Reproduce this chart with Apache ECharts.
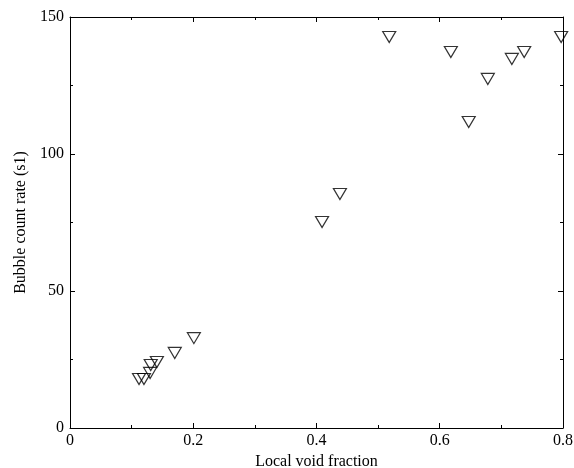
<!DOCTYPE html>
<html>
<head>
<meta charset="utf-8">
<script src="https://cdn.jsdelivr.net/npm/echarts@6/dist/echarts.min.js"></script>
<style>
  html, body { margin: 0; padding: 0; background: #fff; }
  #chart { width: 574px; height: 468px; }
</style>
</head>
<body>
<div id="chart"></div>
<script>
// void fraction vs bubble count rate
var voidFraction = [0.112, 0.120, 0.130, 0.131, 0.141, 0.170, 0.201, 0.409, 0.438, 0.518, 0.618, 0.647, 0.678, 0.717, 0.737, 0.797];
var countRate    = [17.9, 17.9, 20.1, 23.0, 24.1, 27.4, 32.8, 75.2, 85.4, 142.7, 137.2, 111.7, 127.4, 134.7, 137.2, 142.7];

var points = [];
for (var i = 0; i < voidFraction.length; i++) {
    points.push([voidFraction[i], countRate[i]]);
}

var font = 'Liberation Serif';
var black = '#000';

function frameAxis(pos, min, max, interval, showLabel) {
    return {
        type: 'value',
        position: pos,
        min: min,
        max: max,
        interval: interval,
        axisLine: { show: true, onZero: false, lineStyle: { color: black, width: 1 } },
        axisTick: { show: true, inside: true, length: 5, lineStyle: { color: black } },
        minorTick: { show: true, splitNumber: 2, length: 3, lineStyle: { color: black } },
        splitLine: { show: false },
        axisLabel: { show: showLabel, color: black, fontFamily: font, fontSize: 16 }
    };
}

var myChart = echarts.init(document.getElementById('chart'));

var xBottom = frameAxis('bottom', 0, 0.8, 0.2, true);
xBottom.name = 'Local void fraction';
xBottom.nameLocation = 'middle';
xBottom.nameGap = 23;
xBottom.nameTextStyle = { color: black, fontFamily: font, fontSize: 16 };
xBottom.axisLabel.margin = 5;
xBottom.axisLabel.formatter = function (v) { return v === 0 ? '0' : String(+v.toFixed(1)); };

var xTop = frameAxis('top', 0, 0.8, 0.2, false);

var yLeft = frameAxis('left', 0, 150, 50, true);
yLeft.name = 'Bubble count rate (s1)';
yLeft.nameLocation = 'middle';
yLeft.nameGap = 40;
yLeft.nameTextStyle = { color: black, fontFamily: font, fontSize: 16 };
yLeft.axisLabel.margin = 6;

var yRight = frameAxis('right', 0, 150, 50, false);

option = {
    backgroundColor: '#fff',
    animation: false,
    grid: { left: 70, right: 11, top: 17, bottom: 40, outerBoundsMode: 'none', containLabel: false },
    xAxis: [xBottom, xTop],
    yAxis: [yLeft, yRight],
    series: [
        {
            type: 'scatter',
            xAxisIndex: 0,
            yAxisIndex: 0,
            data: points,
            symbol: 'triangle',
            symbolSize: [13, 11],
            symbolRotate: 180,
            itemStyle: { color: 'rgba(255,255,255,0)', borderColor: black, borderWidth: 1.2 }
        }
    ]
};
myChart.setOption(option);
</script>
</body>
</html>
